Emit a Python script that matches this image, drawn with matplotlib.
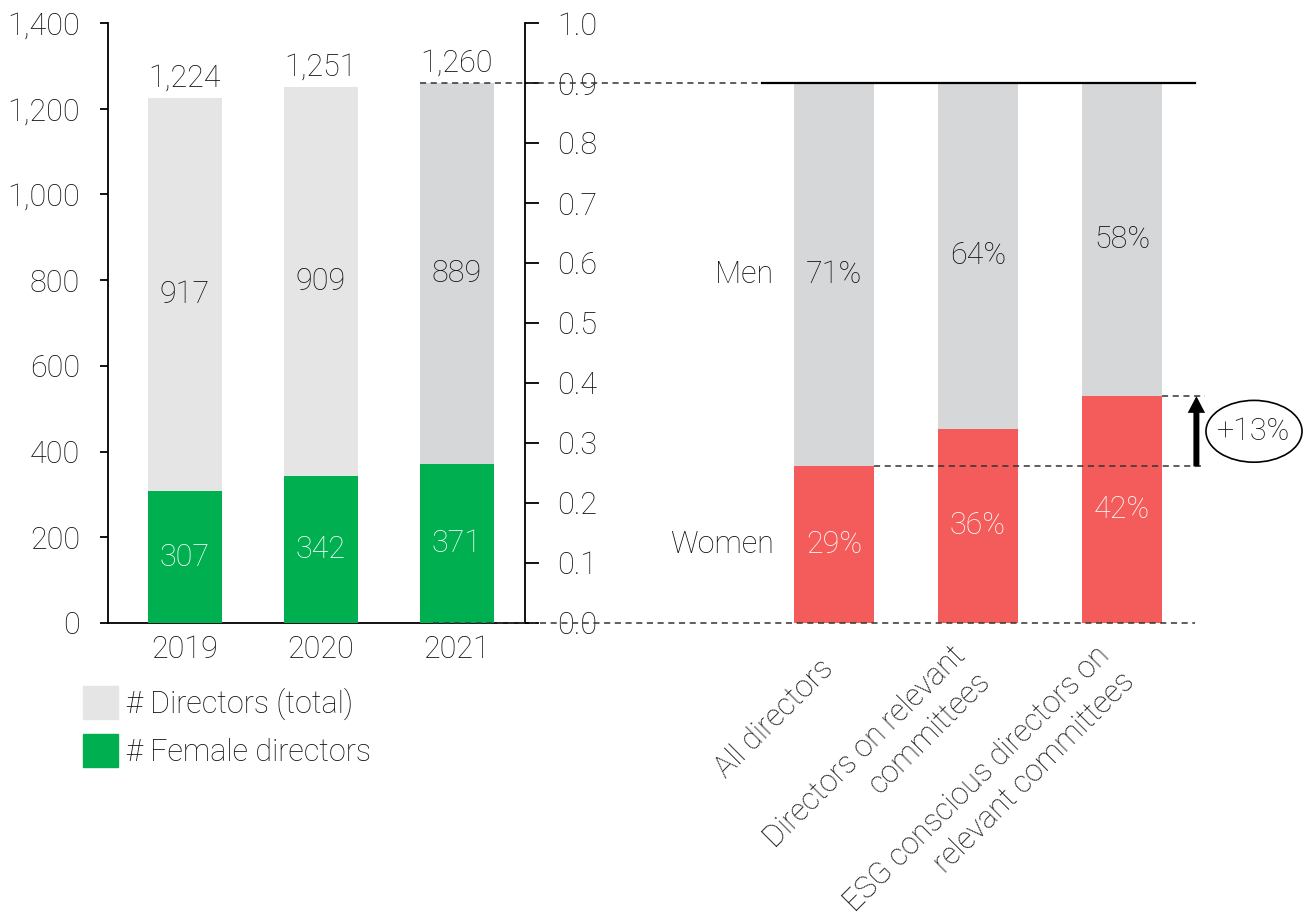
import matplotlib
matplotlib.use("Agg")
import matplotlib.pyplot as plt
from matplotlib.patches import Patch, Ellipse

plt.rcParams["font.family"] = ["Roboto", "DejaVu Sans"]
plt.rcParams["font.weight"] = "light"
FS = 22

# data
years = ["2019", "2020", "2021"]
total_directors = [1224, 1251, 1260]
female_directors = [307, 342, 371]

groups = ["All directors", "Directors on relevant\ncommittees",
          "ESG conscious directors on\nrelevant committees"]
women_pct = [29, 36, 42]
men_pct = [71, 64, 58]
scale_top = 0.9          # 1,260 / 1,400 -> 100% of the right-hand bars
uplift_label = "+13%"

grey_light = "#e5e5e5"
grey_mid = "#d6d7d9"
green = "#00b050"
red = "#f45b5b"
dash_col = "#333333"
ink = "#111111"

fig = plt.figure(figsize=(13.1, 9.24), dpi=100)
W, H = 1310, 924
bot, hgt = (H - 623) / H, 600 / H

# ---- left: director counts ----
ax1 = fig.add_axes([108 / W, bot, 425 / W, hgt])
ax1.patch.set_alpha(0)
xs = range(len(years))
bw = 0.55
tot_cols = [grey_light, grey_light, grey_mid]
ax1.bar(xs, total_directors, width=bw, color=tot_cols, zorder=2)
ax1.bar(xs, female_directors, width=bw, color=green, zorder=3)
for i, (t, f) in enumerate(zip(total_directors, female_directors)):
    ax1.annotate(f"{t:,}", (i, t), xytext=(0, 4), textcoords="offset points",
                 ha="center", va="bottom", fontsize=FS, color=ink)
    ax1.text(i, (t + f) / 2, f"{t - f}", ha="center", va="center", fontsize=FS, color=ink)
    ax1.text(i, f / 2, f"{f}", ha="center", va="center", fontsize=FS, color="white")
ax1.set_xlim(-0.566, 2.559)
ax1.set_ylim(0, 1400)
ax1.set_yticks(range(0, 1401, 200))
ax1.set_yticklabels([f"{v:,}" for v in range(0, 1401, 200)])
ax1.set_xticks(list(xs))
ax1.set_xticklabels(years)
ax1.tick_params(axis="y", length=6, width=1.3, pad=14, labelsize=FS, labelcolor=ink)
ax1.tick_params(axis="x", length=0, pad=9, labelsize=FS, labelcolor=ink)
for s in ["top", "right"]:
    ax1.spines[s].set_visible(False)
for s in ["left", "bottom"]:
    ax1.spines[s].set_linewidth(1.3)

leg = ax1.legend(handles=[Patch(color=grey_light, label="# Directors (total)"),
                          Patch(color=green, label="# Female directors")],
                 loc="upper left", bbox_to_anchor=(83 / W, 1 - 686 / H),
                 bbox_transform=fig.transFigure, frameon=False, fontsize=FS,
                 handlelength=1.15, handleheight=1.3, handletextpad=0.25,
                 labelspacing=0.45, borderpad=0, borderaxespad=0)
for txt in leg.get_texts():
    txt.set_color(ink)

# ---- scale axis 0-1 ----
ax_s = fig.add_axes([108 / W, bot, 417 / W, hgt])
ax_s.patch.set_alpha(0)
for s in ["top", "left", "bottom"]:
    ax_s.spines[s].set_visible(False)
ax_s.spines["right"].set_linewidth(1.3)
ax_s.set_xticks([])
ax_s.yaxis.tick_right()
ax_s.set_ylim(0, 1)
ax_s.set_yticks([i / 10 for i in range(11)])
ax_s.set_yticklabels([f"{i / 10:.1f}" for i in range(11)])
ax_s.tick_params(axis="y", length=10, width=1.3, pad=13, labelsize=FS, labelcolor=ink)

# ---- right: gender split ----
ax_r = fig.add_axes([525 / W, bot, 785 / W, hgt])
ax_r.patch.set_alpha(0)
for s in ax_r.spines.values():
    s.set_visible(False)
ax_r.set_xlim(-2.146, 3.306)
ax_r.set_ylim(0, 1)
ax_r.set_yticks([])
ax_r.set_xticks([])
gx = list(range(len(groups)))
rw = 0.556
women = [p / 100 * scale_top for p in women_pct]
men = [p / 100 * scale_top for p in men_pct]
ax_r.bar(gx, women, width=rw, color=red, zorder=2)
ax_r.bar(gx, men, width=rw, bottom=women, color=grey_mid, zorder=2)
for i in gx:
    ax_r.text(i, women[i] + men[i] / 2, f"{men_pct[i]}%", ha="center", va="center", fontsize=FS, color=ink)
    ax_r.text(i, women[i] / 2, f"{women_pct[i]}%", ha="center", va="center", fontsize=FS, color="white")
    # rotated category labels, right-aligned, anchored just below the bar
    ax_r.annotate(groups[i], (i, 0), xycoords=("data", "axes fraction"),
                  xytext=(-3.5, -29.5), textcoords="offset points",
                  ha="right", va="center", rotation=45, rotation_mode="anchor",
                  multialignment="right", linespacing=1.3, fontsize=FS,
                  color=ink, annotation_clip=False)
ax_r.text(-0.42, women[0] + men[0] / 2, "Men", ha="right", va="center", fontsize=FS, color=ink)
ax_r.text(-0.42, women[0] / 2, "Women", ha="right", va="center", fontsize=FS, color=ink)

# connectors between the two panels
def to_right(x):
    p = ax1.transData.transform((x, 0))
    return ax_r.transData.inverted().transform(p)[0]

x_2021 = to_right(2 - bw / 2)
x_end = 2 + 0.507
dash = dict(color=dash_col, lw=1.1, ls=(0, (4, 3)), clip_on=False, zorder=5)
ax_r.plot([x_2021, -0.5], [scale_top, scale_top], **dash)
ax_r.plot([-0.5, x_end], [scale_top, scale_top], color="black", lw=1.6, clip_on=False, zorder=5)
ax_r.plot([x_2021 + 0.09, x_end], [0, 0], **dash)
ax_r.plot([rw / 2, x_end + 0.04], [women[0], women[0]], **dash)
ax_r.plot([2 + rw / 2, x_end + 0.07], [women[2], women[2]], **dash)

xa = x_end + 0.01
ax_r.annotate("", xy=(xa, women[2]), xytext=(xa, women[0]),
              arrowprops=dict(width=4.3, headwidth=12.5, headlength=12,
                              facecolor="black", edgecolor="black", lw=0,
                              shrink=0), zorder=6, annotation_clip=False)
ey = (women[0] + women[2]) / 2
ax_r.add_patch(Ellipse((2.917, ey), 0.667, 0.103, fill=False, lw=1.2,
                       edgecolor="black", clip_on=False, zorder=6))
ax_r.text(2.917, ey, uplift_label, ha="center", va="center", fontsize=FS, color=ink, zorder=7)

fig.savefig("out.png", dpi=100)
